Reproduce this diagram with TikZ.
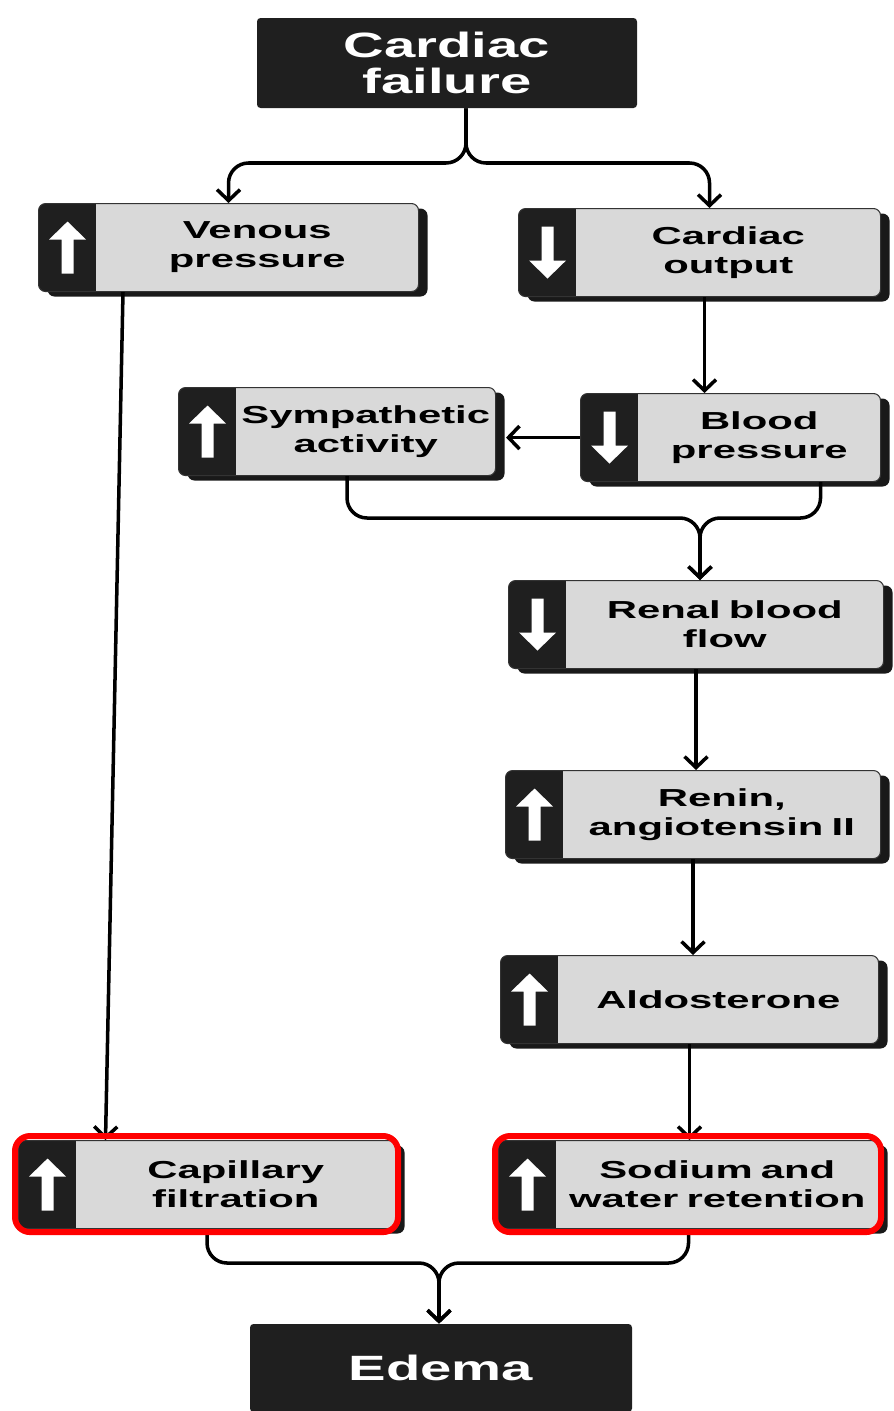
\documentclass[tikz,border=0pt]{standalone}
\usepackage{fontspec}
\usetikzlibrary{arrows.meta,shadows}
\newfontfamily\boxfont[FakeStretch=1.7]{Liberation Sans}
\newfontfamily\headfont[FakeStretch=1.6]{Liberation Sans}

\tikzset{
  factor/.style={draw=black!80, line width=0.6pt, fill=black!15, rounded corners=4pt,
    anchor=north west, minimum height=1.76cm, inner xsep=0.05cm, align=center,
    font=\boxfont\bfseries\fontsize{14}{16.5}\selectfont,
    execute at begin node={\hyphenpenalty=10000 \advance\leftskip by 1.15cm},
    general shadow={fill=black!90, shadow xshift=0.18cm, shadow yshift=-0.1cm}},
  rise/.style={factor, path picture={
    \fill[black!88, sharp corners] (path picture bounding box.north west) rectangle ([xshift=1.15cm]path picture bounding box.south west);
    \fill[white, sharp corners] ([xshift=0.58cm, yshift=0.52cm]path picture bounding box.west)
      -- ++(0.37,-0.36) -- ++(-0.25,0) -- ++(0,-0.68) -- ++(-0.24,0) -- ++(0,0.68) -- ++(-0.25,0) -- cycle;}},
  fall/.style={factor, path picture={
    \fill[black!88, sharp corners] (path picture bounding box.north west) rectangle ([xshift=1.15cm]path picture bounding box.south west);
    \fill[white, sharp corners] ([xshift=0.58cm, yshift=-0.52cm]path picture bounding box.west)
      -- ++(0.37,0.36) -- ++(-0.25,0) -- ++(0,0.68) -- ++(-0.24,0) -- ++(0,-0.68) -- ++(-0.25,0) -- cycle;}},
  cause/.style={fill=black!88, text=white, rounded corners=2pt, minimum width=7.6cm,
    minimum height=1.8cm, align=center, font=\headfont\bfseries\fontsize{20}{20}\selectfont},
  link/.style={->, line width=2pt, rounded corners=0.4cm},
  highlight/.style={draw=red, line width=0.12cm, rounded corners=0.3cm}
}

\begin{document}
\begin{tikzpicture}[>={Straight Barb[length=2.2mm,width=4.6mm]}]
\useasboundingbox (0,0) rectangle (17.86,-28.22);
% causes and results
\node[cause] (failure) at (8.94,-1.26) {Cardiac\\failure};
\node[cause, minimum width=7.64cm, minimum height=1.76cm] (edema) at (8.82,-27.36) {Edema};
% left column
\node[rise, text width=7.5cm] (venous) at (0.76,-4.06) {Venous\\pressure};
\node[rise, text width=6.24cm] (sympathetic) at (3.56,-7.74) {Sympathetic\\activity};
\node[rise, text width=7.44cm] (capillary) at (0.36,-22.8) {Capillary\\filtration};
% right column
\node[fall, text width=7.14cm] (output) at (10.36,-4.16) {Cardiac\\output};
\node[fall, text width=5.9cm] (blood) at (11.6,-7.86) {Blood\\pressure};
\node[fall, text width=7.4cm] (renal) at (10.16,-11.6) {Renal blood\\flow};
\node[rise, text width=7.4cm] (renin) at (10.1,-15.4) {Renin,\\angiotensin II};
\node[rise, text width=7.46cm] (aldosterone) at (10.0,-19.1) {Aldosterone};
\node[rise, text width=7.5cm] (sodium) at (9.96,-22.8) {Sodium and\\water retention};
% connectors
\coordinate (fork) at (9.32,-3.26);
\coordinate (join) at (14.0,-10.36);
\coordinate (pool) at (8.78,-25.26);
\draw[link] (failure.south -| fork) -- (fork) -| (venous.north);
\draw[link] (failure.south -| fork) -- (fork) -| ([xshift=0.2cm]output.north);
\draw[link] ([xshift=1.7cm]venous.south west) -- ([xshift=1.75cm]capillary.north west);
\draw[link] ([xshift=0.1cm]output.south) -- ([xshift=0.1cm]output.south |- blood.north);
\draw[link] (blood.west) -- ([xshift=0.2cm]blood.west -| sympathetic.east);
\draw[link] ([xshift=0.2cm]sympathetic.south) |- (join) -- (join |- renal.north);
\draw[link] ([xshift=1.8cm]blood.south) |- (join) -- (join |- renal.north);
\draw[link] (renal.south) -- (renal.south |- renin.north);
\draw[link] (renin.south) -- (renin.south |- aldosterone.north);
\draw[link] (aldosterone.south) -- (aldosterone.south |- sodium.north);
\draw[link] (capillary.south) |- (pool) -- (pool |- edema.north);
\draw[link] (sodium.south) |- (pool) -- (pool |- edema.north);
% marked boxes
\draw[highlight] ([shift={(-0.06,0.08)}]capillary.north west) rectangle ([shift={(0.04,-0.06)}]capillary.south east);
\draw[highlight] ([shift={(-0.06,0.08)}]sodium.north west) rectangle ([shift={(0.04,-0.06)}]sodium.south east);
\end{tikzpicture}
\end{document}
